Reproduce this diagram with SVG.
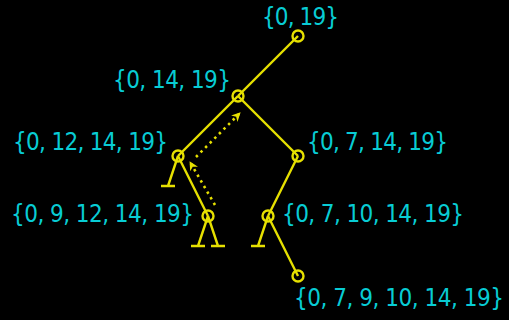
<svg xmlns="http://www.w3.org/2000/svg" width="509" height="320" viewBox="0 0 509 320">
<defs>
<style>
.e{stroke:#e6e000;stroke-width:2.4;fill:none}
.n{stroke:#e6e000;stroke-width:2.4;fill:none}
.d{stroke:#e6e000;stroke-width:2.6;fill:none;stroke-dasharray:2.5,4}
.t{fill:#08ccd4;font-family:"DejaVu Sans",sans-serif;font-stretch:condensed;font-size:24px}
</style>
<marker id="ah" viewBox="0 0 10 10" refX="9" refY="5" markerWidth="9" markerHeight="9" orient="auto" markerUnits="userSpaceOnUse">
<path d="M0,0 L10,5 L0,10 L3,5 Z" fill="#e6e000"/>
</marker>
</defs>
<rect width="509" height="320" fill="#000"/>
<g id="connectors">
<line class="e" x1="298" y1="36" x2="238" y2="96"/>
<line class="e" x1="238" y1="96" x2="178" y2="156"/>
<line class="e" x1="238" y1="96" x2="298" y2="156"/>
<line class="e" x1="178" y1="156" x2="208" y2="216"/>
<line class="e" x1="298" y1="156" x2="268" y2="216"/>
<line class="e" x1="268" y1="216" x2="298" y2="276"/>
<path class="e" d="M178,156 L168,186 M161,186 H175"/>
<path class="e" d="M208,216 L198,246 M191,246 H205"/>
<path class="e" d="M208,216 L218,246 M211,246 H225"/>
<path class="e" d="M268,216 L258,246 M251,246 H265"/>
<line class="d" x1="215" y1="205" x2="190" y2="162" marker-end="url(#ah)"/>
<line class="d" x1="196" y1="157" x2="240" y2="113" marker-end="url(#ah)"/>
</g>
<g id="n0"><circle class="n" cx="298" cy="36" r="5.5"/><text class="t" x="262" y="25" textLength="77">{0, 19}</text></g>
<g id="n1"><circle class="n" cx="238" cy="96" r="5.5"/><text class="t" x="113" y="88" textLength="118">{0, 14, 19}</text></g>
<g id="n2"><circle class="n" cx="178" cy="156" r="5.5"/><text class="t" x="13" y="150" textLength="155">{0, 12, 14, 19}</text></g>
<g id="n3"><circle class="n" cx="298" cy="156" r="5.5"/><text class="t" x="307" y="150" textLength="141">{0, 7, 14, 19}</text></g>
<g id="n4"><circle class="n" cx="208" cy="216" r="5.5"/><text class="t" x="11" y="222" textLength="183">{0, 9, 12, 14, 19}</text></g>
<g id="n5"><circle class="n" cx="268" cy="216" r="5.5"/><text class="t" x="282" y="222" textLength="182">{0, 7, 10, 14, 19}</text></g>
<g id="n6"><circle class="n" cx="298" cy="276" r="5.5"/><text class="t" x="294" y="306" textLength="210">{0, 7, 9, 10, 14, 19}</text></g>
</svg>
